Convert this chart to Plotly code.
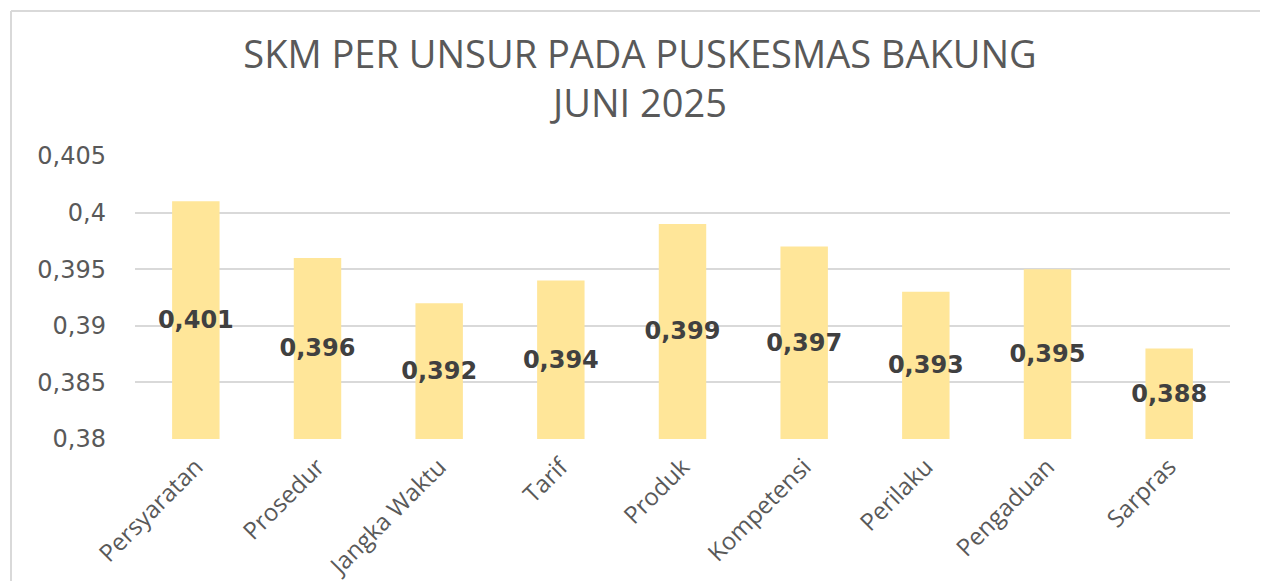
import plotly.graph_objects as go

categories = ["Persyaratan", "Prosedur", "Jangka Waktu", "Tarif", "Produk",
              "Kompetensi", "Perilaku", "Pengaduan", "Sarpras"]
values = [0.401, 0.396, 0.392, 0.394, 0.399, 0.397, 0.393, 0.395, 0.388]
tick_vals = [0.38, 0.385, 0.39, 0.395, 0.40, 0.405]
tick_text = ["0,38", "0,385", "0,39", "0,395", "0,4", "0,405"]
axis_min = 0.38
axis_max = 0.405

labels = [f"{v:.3f}".replace(".", ",") for v in values]

fig = go.Figure()
fig.add_trace(go.Bar(
    x=categories,
    y=[v - axis_min for v in values],
    base=axis_min,
    marker=dict(color="#FFE699", line=dict(width=0)),
    width=0.39,
    text=labels,
    textposition="inside",
    insidetextanchor="middle",
    textangle=0,
    textfont=dict(family="DejaVu Sans", size=24, color="#404040", weight="bold"),
    constraintext="none",
    cliponaxis=False,
    hoverinfo="skip",
))

# page has an 8px body margin; figure coords = screen coords - 8
W, H = 1260, 573
L, R, T, B = 127, 38, 148, 142
pw = W - L - R
ph = H - T - B

def px_x(x):
    return (x - L) / pw

def px_y(y):
    return (H - B - y) / ph

fig.update_layout(
    width=W, height=H,
    margin=dict(l=L, r=R, t=T, b=B, autoexpand=False),
    paper_bgcolor="white",
    plot_bgcolor="white",
    showlegend=False,
    title=dict(
        text="SKM PER UNSUR PADA PUSKESMAS BAKUNG<br>JUNI 2025",
        x=632 / W, xanchor="center",
        y=1 - 60 / H, yanchor="middle",
        font=dict(family="Open Sans", size=38, color="#595959"),
    ),
    xaxis=dict(
        tickangle=-45,
        tickfont=dict(family="Open Sans", size=24, color="#595959"),
        showgrid=False,
        showline=False,
        ticks="",
        ticklabelstandoff=8,
        automargin=False,
    ),
    yaxis=dict(
        range=[axis_min, axis_max],
        tickvals=tick_vals,
        ticktext=tick_text,
        tickfont=dict(family="DejaVu Sans", size=24, color="#595959"),
        showgrid=True,
        gridcolor="#D9D9D9",
        gridwidth=1.5,
        zeroline=False,
        showline=False,
        ticks="",
        ticklabelstandoff=28,
        automargin=False,
    ),
    shapes=[
        dict(type="line", xref="paper", yref="paper",
             x0=px_x(3), x1=px_x(1300), y0=px_y(3), y1=px_y(3),
             line=dict(color="#D9D9D9", width=2)),
        dict(type="line", xref="paper", yref="paper",
             x0=px_x(3), x1=px_x(3), y0=px_y(3), y1=px_y(650),
             line=dict(color="#D9D9D9", width=2)),
    ],
)

fig.write_html("out.html")
